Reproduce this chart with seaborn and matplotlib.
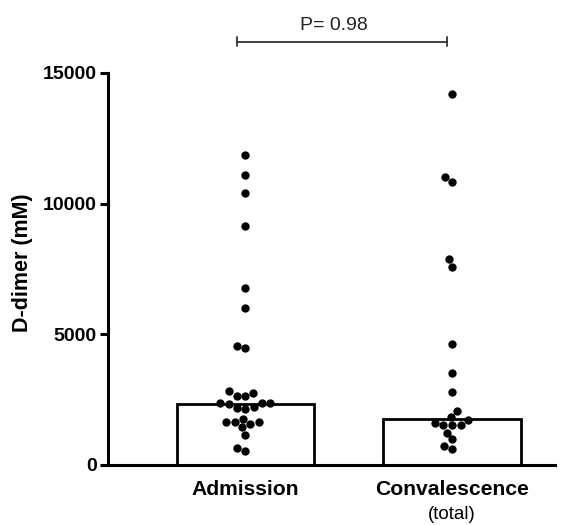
import numpy as np
import pandas as pd
import matplotlib
matplotlib.use("Agg")
import matplotlib.pyplot as plt
import matplotlib.transforms as mtransforms
import seaborn as sns

categories = ["Admission", "Convalescence"]
admission = [11862, 11097, 10421, 9146, 6761, 5996, 4554, 4465,
             2820, 2768, 2640, 2640, 2386, 2386, 2360, 2335,
             2233, 2194, 2130, 1760, 1633, 1633, 1633, 1570,
             1442, 1148, 663, 536]
convalescence = [14196, 11020, 10840, 7895, 7589, 4631, 3508, 2806,
                 2080, 1849, 1722, 1595, 1531, 1531, 1531, 1238,
                 982, 727, 612]
bar_heights = [2335, 1760]
y_ticks = [0, 5000, 10000, 15000]
p_label = "P= 0.98"

sns.set_theme(style="ticks")
plt.rcParams['font.family'] = ['Liberation Sans', 'DejaVu Sans']
plt.rcParams['text.color'] = 'black'
plt.rcParams['axes.labelcolor'] = 'black'
plt.rcParams['xtick.color'] = 'black'
plt.rcParams['ytick.color'] = 'black'

df = pd.DataFrame({
    "group": [categories[0]] * len(admission) + [categories[1]] * len(convalescence),
    "value": admission + convalescence,
})
bars = pd.DataFrame({"group": categories, "value": bar_heights})

fig = plt.figure(figsize=(5.79, 5.25), dpi=100)
ax = fig.add_axes([0.1865, 0.1143, 0.772, 0.7467])

sns.barplot(data=bars, x="group", y="value", order=categories, ax=ax,
            fill=False, color="black", linewidth=2.0, width=0.667,
            errorbar=None)
for p in ax.patches:
    p.set_edgecolor("black")
    p.set_linewidth(2.0)

sns.swarmplot(data=df, x="group", y="value", order=categories, ax=ax,
              color="black", size=6, zorder=3)

ax.set_xlim(-0.666, 1.5)
ax.set_ylim(0, 15000)
ax.set_yticks(y_ticks)
ax.set_yticklabels([str(t) for t in y_ticks], fontsize=14, fontweight="bold")
ax.set_xticks([0, 1])
ax.set_xticklabels(categories, fontsize=15.2, fontweight="bold")
ax.tick_params(axis="x", length=0, pad=11)
ax.tick_params(axis="y", length=6, width=2.2, pad=2, direction="out")
ax.set_xlabel("")
ax.set_ylabel("D-dimer (mM)", fontsize=15.5, fontweight="bold")
ax.yaxis.set_label_coords(-0.168, 0.515)

for side in ["top", "right"]:
    ax.spines[side].set_visible(False)
for side in ["left", "bottom"]:
    ax.spines[side].set_linewidth(2.2)
    ax.spines[side].set_color("black")

trans = mtransforms.blended_transform_factory(ax.transData, ax.transAxes)
ax.text(1, -0.105, "(total)", transform=trans, ha="center", va="top",
        fontsize=13.5)

# significance bracket
yb = 16200
x0, x1 = -0.043, 0.977
ax.plot([x0, x1], [yb, yb], color="#333333", lw=1.3, clip_on=False)
for xx in (x0, x1):
    ax.plot([xx, xx], [yb - 180, yb + 180], color="#333333", lw=1.3, clip_on=False)
ax.text(0.43, yb + 300, p_label, ha="center", va="bottom", fontsize=14,
        color="#222222", clip_on=False)

fig.savefig("out.png", dpi=100)
